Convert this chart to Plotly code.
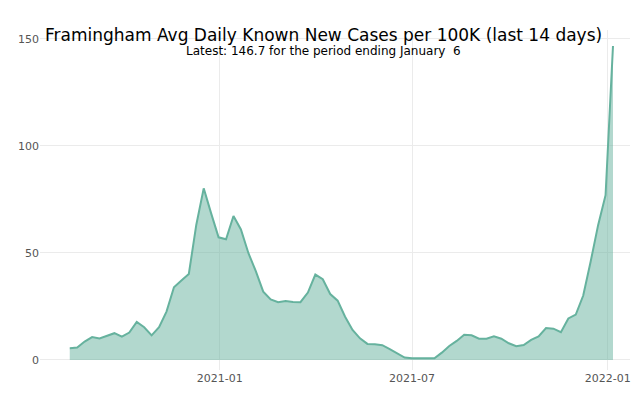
import pandas as pd
import plotly.graph_objects as go

start_date = "2020-08-13"
n_weeks = 74
dates = pd.date_range(start_date, periods=n_weeks, freq="7D")

cases_per_100k = [
    5.5, 5.8, 8.6, 10.7, 10.0, 11.2, 12.5, 10.9, 12.8, 17.8,
    15.3, 11.5, 15.3, 22.6, 34.0, 37.1, 40.2, 63.1, 80.2, 68.5,
    57.3, 56.4, 67.3, 61.0, 50.0, 41.5, 31.9, 28.3, 27.0, 27.6,
    27.1, 27.0, 31.5, 39.9, 37.7, 30.8, 27.7, 20.2, 14.0, 10.1,
    7.5, 7.3, 6.9, 5.1, 2.9, 1.1, 0.8, 0.9, 0.9, 0.8,
    3.4, 6.5, 8.9, 11.8, 11.5, 9.9, 9.9, 11.0, 9.9, 7.8,
    6.4, 7.0, 9.4, 11.0, 14.9, 14.6, 13.0, 19.4, 21.2, 30.1,
    46.0, 63.0, 77.0, 146.7,
]

x_tickvals = ["2021-01-01", "2021-07-01", "2022-01-01"]
x_ticktext = ["2021-01", "2021-07", "2022-01"]
y_tickvals = [0, 50, 100, 150]

title_text = "Framingham Avg Daily Known New Cases per 100K (last 14 days)"
subtitle_text = "Latest: 146.7 for the period ending January&nbsp; 6"

line_color = "rgb(102,178,158)"
fill_color = "rgba(102,178,158,0.5)"

fig = go.Figure()
fig.add_trace(go.Scatter(
    x=dates, y=cases_per_100k, mode="lines", fill="tozeroy",
    line=dict(color=line_color, width=2), fillcolor=fill_color,
    hoverinfo="x+y",
))

fig.update_layout(
    width=640, height=398,
    margin=dict(l=40, r=10, t=30, b=28),
    paper_bgcolor="white", plot_bgcolor="white",
    showlegend=False,
    font=dict(family="DejaVu Sans", color="#444"),
    xaxis=dict(
        range=["2020-07-16", "2022-01-22"],
        tickvals=x_tickvals, ticktext=x_ticktext,
        showgrid=True, gridcolor="#ebebeb", gridwidth=1,
        zeroline=False, showline=False, automargin=False,
        tickfont=dict(size=11, color="#555"),
    ),
    yaxis=dict(
        range=[-4.7, 154.2],
        tickvals=y_tickvals,
        showgrid=True, gridcolor="#ebebeb", gridwidth=1,
        zeroline=False, showline=False, automargin=False,
        tickfont=dict(size=11, color="#555"),
    ),
)

fig.add_annotation(
    text=title_text, xref="paper", yref="paper", x=0.48, y=0.985,
    xanchor="center", yanchor="middle", showarrow=False,
    font=dict(size=17, color="black", family="DejaVu Sans"),
)
fig.add_annotation(
    text=subtitle_text, xref="paper", yref="paper", x=0.48, y=0.937,
    xanchor="center", yanchor="middle", showarrow=False,
    font=dict(size=12, color="black", family="DejaVu Sans"),
)

fig.write_html(
    "out.html",
    config={"displayModeBar": False},
    post_script="document.body.style.margin='0';",
)
